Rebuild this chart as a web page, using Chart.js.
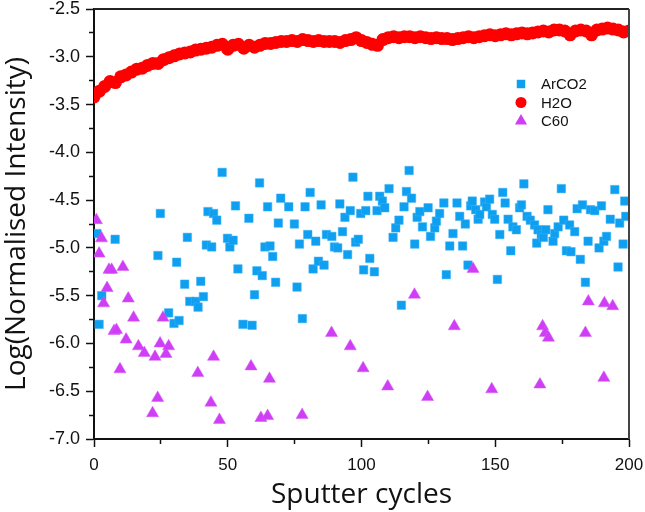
<!DOCTYPE html>
<html>
<head>
<meta charset="utf-8">
<script src="https://cdn.jsdelivr.net/npm/chart.js@4.4.0/dist/chart.umd.min.js"></script>
<style>
  html, body { margin: 0; padding: 0; background: #fff; }
</style>
</head>
<body>
<canvas id="sputterChart" width="645" height="512"></canvas>
<script>
// values
const h2oCycle = [0, 2, 4, 6, 8, 10, 12, 14, 16, 18, 20, 22, 24, 26, 28, 30, 32, 34, 36, 38, 40,
  42, 44, 46, 48, 50, 52, 54, 56, 58, 60, 62, 64, 66, 68, 70, 72, 74, 76, 78, 80,
  82, 84, 86, 88, 90, 92, 94, 96, 98, 100, 102, 104, 106, 108, 110, 112, 114, 116, 118, 120,
  122, 124, 126, 128, 130, 132, 134, 136, 138, 140, 142, 144, 146, 148, 150, 152, 154, 156, 158, 160,
  162, 164, 166, 168, 170, 172, 174, 176, 178, 180, 182, 184, 186, 188, 190, 192, 194, 196, 198, 200];
const h2oValue = [-3.42, -3.36, -3.31, -3.26, -3.27, -3.21, -3.19, -3.16, -3.13, -3.12, -3.09,
  -3.07, -3.07, -3.03, -3.01, -2.99, -2.97, -2.96, -2.95, -2.93, -2.92,
  -2.91, -2.90, -2.88, -2.87, -2.92, -2.88, -2.87, -2.91, -2.88, -2.90,
  -2.88, -2.86, -2.86, -2.85, -2.84, -2.84, -2.83, -2.84, -2.82, -2.83,
  -2.84, -2.83, -2.84, -2.84, -2.84, -2.85, -2.83, -2.82, -2.80, -2.83,
  -2.85, -2.87, -2.88, -2.82, -2.80, -2.79, -2.80, -2.79, -2.79, -2.80,
  -2.79, -2.80, -2.81, -2.80, -2.81, -2.81, -2.82, -2.81, -2.80, -2.79,
  -2.80, -2.79, -2.78, -2.77, -2.78, -2.77, -2.76, -2.77, -2.76, -2.75,
  -2.76, -2.75, -2.74, -2.73, -2.74, -2.72, -2.72, -2.73, -2.77, -2.73,
  -2.72, -2.73, -2.77, -2.72, -2.71, -2.70, -2.71, -2.72, -2.74, -2.73];

const arco2Cycle = [1.1, 1.9, 2.9, 7.9, 23.9, 24.8, 27.9, 29.9, 30.9, 31.8, 33.9, 34.9, 35.8, 38.0, 38.9,
  39.9, 40.9, 42.0, 42.6, 44.0, 44.7, 45.9, 47.9, 49.9, 50.8, 52.0, 52.9, 53.8, 55.7, 57.9,
  59.1, 60.0, 60.9, 61.9, 62.9, 63.9, 64.9, 65.8, 66.8, 67.9, 68.9, 69.8, 72.8, 74.9, 75.9,
  76.8, 77.9, 78.9, 79.9, 80.8, 81.9, 82.9, 83.9, 84.9, 86.0, 86.9, 88.9, 89.9, 91.1, 91.9,
  92.9, 93.8, 94.8, 95.8, 96.8, 97.8, 98.8, 99.7, 100.8, 101.6, 102.4, 103.1, 104.8, 105.8, 106.8,
  107.8, 108.7, 110.3, 111.8, 112.8, 114.0, 114.9, 115.9, 116.8, 117.8, 118.7, 119.9, 120.8, 121.8, 122.8,
  124.9, 125.8, 127.4, 128.0, 129.2, 130.8, 131.7, 133.0, 134.2, 135.7, 136.7, 137.8, 138.8, 139.8, 140.8,
  141.4, 142.7, 143.6, 144.2, 146.0, 146.7, 147.9, 148.9, 149.8, 150.8, 151.7, 152.8, 153.7, 154.8, 155.8,
  156.6, 157.9, 159.1, 159.8, 160.7, 161.9, 163.1, 164.7, 165.5, 166.0, 167.2, 168.0, 168.9, 169.7, 171.6,
  172.2, 173.5, 174.7, 175.6, 176.6, 177.8, 178.3, 179.7, 180.6, 181.8, 182.6, 183.7, 184.7, 185.6, 187.2,
  188.8, 189.7, 190.6, 191.6, 193.0, 194.7, 195.9, 196.5, 197.8, 198.4, 198.8];
const arco2Value = [-4.85, -5.80, -5.50, -4.91, -5.08, -4.64, -5.68, -5.79, -5.15, -5.76, -5.38, -4.89, -5.56, -5.56, -5.62,
  -5.35, -5.51, -4.97, -4.62, -4.99, -4.64, -4.71, -4.21, -4.90, -4.99, -4.92, -4.56, -5.22, -5.80, -4.69,
  -5.81, -5.49, -5.24, -4.32, -5.29, -4.99, -4.57, -4.98, -5.09, -5.36, -4.74, -4.48, -4.57, -4.75, -5.41,
  -4.96, -5.74, -4.57, -4.86, -4.42, -5.22, -4.93, -5.14, -4.55, -5.18, -4.86, -4.88, -4.99, -5.00, -4.54,
  -4.83, -4.68, -5.07, -4.61, -4.26, -4.94, -4.91, -4.64, -5.23, -4.61, -4.46, -5.11, -5.25, -4.61, -4.46,
  -4.51, -4.58, -4.38, -4.89, -4.79, -4.71, -5.60, -4.57, -4.41, -4.19, -4.48, -4.96, -4.68, -4.62, -4.78,
  -4.58, -4.88, -4.79, -4.72, -4.64, -4.53, -5.28, -4.98, -4.85, -4.53, -4.67, -4.98, -4.75, -5.18, -4.56,
  -4.51, -4.60, -4.70, -4.65, -4.52, -4.57, -4.49, -4.65, -4.70, -5.33, -4.86, -4.42, -4.53, -4.70, -5.03,
  -4.78, -4.81, -4.58, -4.55, -4.33, -4.67, -4.71, -4.76, -4.95, -4.81, -4.86, -4.89, -4.81, -4.60, -4.93,
  -4.85, -4.78, -4.38, -4.71, -5.03, -4.76, -5.04, -4.83, -4.59, -5.12, -4.55, -5.36, -4.93, -4.60, -4.61,
  -5.00, -4.56, -4.93, -4.88, -4.70, -4.39, -5.20, -4.74, -4.96, -4.51, -4.67];

const c60Cycle = [0.9, 1.9, 2.8, 3.6, 4.9, 5.6, 6.6, 7.5, 8.4, 9.7, 10.8, 12.0, 12.8, 14.8, 16.6,
  18.8, 21.9, 22.8, 23.8, 24.7, 25.8, 26.9, 27.9, 38.8, 43.7, 44.7, 46.9, 58.7, 62.4, 64.9,
  65.6, 77.8, 88.8, 95.8, 100.6, 109.8, 119.8, 124.7, 134.7, 141.7, 148.7, 166.7, 167.7, 168.7, 169.9,
  183.7, 184.8, 190.6, 190.8, 193.9];
const c60Value = [-4.71, -5.06, -4.90, -5.58, -5.42, -5.23, -5.23, -5.87, -5.86, -6.27, -5.20, -5.96, -5.53, -5.73, -6.03,
  -6.10, -6.73, -6.14, -6.57, -6.00, -5.73, -6.11, -6.03, -6.31, -6.62, -6.14, -6.80, -6.24, -6.78, -6.76,
  -6.37, -6.75, -5.89, -6.03, -6.26, -6.45, -5.49, -6.56, -5.82, -5.22, -6.48, -6.43, -5.82, -5.89, -5.94,
  -5.89, -5.56, -6.36, -5.58, -5.61];

const xTicksMajor = [0, 50, 100, 150, 200];
const yTicksMajor = [-2.5, -3.0, -3.5, -4.0, -4.5, -5.0, -5.5, -6.0, -6.5, -7.0];

const toPoints = (xs, ys) => xs.map((x, i) => ({ x: x, y: ys[i] }));

const isMajorX = v => xTicksMajor.includes(v);
const isMajorY = v => yTicksMajor.some(t => Math.abs(t - v) < 1e-9);

// legend drawn inside the plot, like the original
const insideLegend = {
  id: 'insideLegend',
  afterDraw(chart) {
    const ctx = chart.ctx;
    const order = ['ArCO2', 'H2O', 'C60'];
    const x0 = 521, y0 = 84, gap = 18.5;
    ctx.save();
    order.forEach((name, i) => {
      const ds = chart.data.datasets.find(d => d.label === name);
      const y = y0 + i * gap;
      ctx.fillStyle = ds.backgroundColor;
      Chart.helpers.drawPoint(ctx, {
        pointStyle: ds.pointStyle, radius: ds.legendRadius, rotation: 0, borderWidth: 0
      }, x0, y);
      ctx.fillStyle = '#111';
      ctx.font = '15px "Liberation Sans", Arial, sans-serif';
      ctx.textBaseline = 'middle';
      ctx.fillText(name, 541, y + 1);
    });
    ctx.restore();
  }
};

// top and right frame lines
const frameLines = {
  id: 'frameLines',
  afterDraw(chart) {
    const a = chart.chartArea;
    const ctx = chart.ctx;
    ctx.save();
    ctx.lineWidth = 2;
    ctx.strokeStyle = '#222';
    ctx.beginPath();
    ctx.moveTo(a.left, a.top);
    ctx.lineTo(a.right, a.top);
    ctx.stroke();
    ctx.strokeStyle = '#444';
    ctx.beginPath();
    ctx.moveTo(a.right, a.top);
    ctx.lineTo(a.right, a.bottom);
    ctx.stroke();
    ctx.restore();
  }
};

const ctx = document.getElementById('sputterChart').getContext('2d');
const chart = new Chart(ctx, {
  type: 'scatter',
  data: {
    datasets: [{
      label: 'ArCO2',
      data: toPoints(arco2Cycle, arco2Value),
      pointStyle: 'rect',
      pointRadius: 6,
      legendRadius: 6,
      backgroundColor: '#0f9ff0',
      borderColor: '#3db3f5',
      borderWidth: 0.5,
      order: 3
    }, {
      label: 'H2O',
      data: toPoints(h2oCycle, h2oValue),
      pointStyle: 'circle',
      pointRadius: 6.5,
      legendRadius: 5.5,
      backgroundColor: '#ff0000',
      borderColor: '#ff0000',
      borderWidth: 0,
      order: 2
    }, {
      label: 'C60',
      data: toPoints(c60Cycle, c60Value),
      pointStyle: 'triangle',
      pointRadius: 7,
      legendRadius: 7,
      backgroundColor: '#cf3ef5',
      borderColor: '#d45af7',
      borderWidth: 0.5,
      order: 1
    }]
  },
  options: {
    responsive: false,
    animation: false,
    layout: { padding: { left: 0, right: 16, top: 9, bottom: 0 } },
    plugins: {
      legend: { display: false },
      tooltip: { enabled: false }
    },
    scales: {
      x: {
        type: 'linear',
        min: 0,
        max: 200,
        afterFit: s => { s.height = 73; s.paddingLeft = 0; s.paddingRight = 0; },
        border: { color: '#111', width: 2 },
        grid: {
          drawOnChartArea: false,
          drawTicks: true,
          tickLength: 8,
          tickColor: '#111',
          tickWidth: 1.5,
          tickBorderDash: c => (c.tick && isMajorX(c.tick.value)) ? [] : [4, 100]
        },
        ticks: {
          stepSize: 25,
          padding: 8,
          autoSkip: false,
          maxRotation: 0,
          color: '#111',
          font: { family: '"Liberation Sans", Arial, sans-serif', size: 17 },
          callback: v => isMajorX(v) ? String(v) : ''
        },
        title: {
          display: true,
          text: 'Sputter cycles',
          color: '#111',
          font: { family: '"Open Sans", sans-serif', size: 28 },
          padding: 0
        }
      },
      y: {
        min: -7,
        max: -2.5,
        afterFit: s => { s.width = 94; s.paddingTop = 0; s.paddingBottom = 0; },
        border: { color: '#111', width: 2 },
        grid: {
          drawOnChartArea: false,
          drawTicks: true,
          tickLength: 8,
          tickColor: '#111',
          tickWidth: 1.5,
          tickBorderDash: c => (c.tick && isMajorY(c.tick.value)) ? [] : [0, 3, 5, 100]
        },
        ticks: {
          stepSize: 0.25,
          padding: 6,
          autoSkip: false,
          color: '#111',
          font: { family: '"Liberation Sans", Arial, sans-serif', size: 18 },
          callback: v => isMajorY(v) ? v.toFixed(1) : ''
        },
        title: {
          display: true,
          text: 'Log(Normalised Intensity)',
          color: '#111',
          font: { family: '"Open Sans", sans-serif', size: 28 },
          padding: 0
        }
      }
    }
  },
  plugins: [insideLegend, frameLines]
});
</script>
</body>
</html>
